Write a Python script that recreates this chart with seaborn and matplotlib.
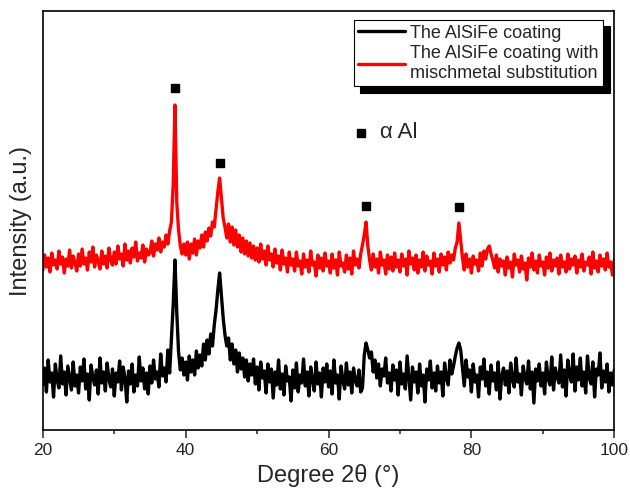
import numpy as np
import matplotlib
matplotlib.use("Agg")
import matplotlib.pyplot as plt
from matplotlib.ticker import MultipleLocator
import seaborn as sns

# 2-theta grid (degrees), 0.25 step
two_theta = np.arange(20, 100.001, 0.25)

# AlSiFe coating (black), intensity in arbitrary units
alsife = [
    45, 62, 38, 70, 48, 57, 33, 66, 50, 42, 74, 46, 58, 35, 64, 52, 40, 68, 44, 55,
    37, 63, 49, 71, 41, 56, 30, 65, 53, 45, 60, 36, 72, 47, 58, 39, 67, 51, 43, 61,
    34, 57, 48, 69, 40, 63, 52, 28, 59, 46, 66, 38, 55, 44, 73, 49, 62, 41, 57, 36,
    64, 47, 70, 51, 58, 43, 76, 54, 62, 48, 80, 57, 92, 125, 170, 118, 78, 60, 72, 55,
    68, 50, 74, 58, 70, 55, 79, 62, 75, 64, 86, 70, 90, 76, 96, 84, 105, 120, 140, 157,
    135, 112, 95, 84, 92, 70, 86, 66, 80, 58, 77, 61, 72, 53, 70, 49, 66, 55, 71, 46,
    63, 40, 68, 52, 59, 37, 66, 48, 61, 32, 58, 45, 70, 41, 56, 35, 64, 49, 53, 29,
    60, 42, 67, 38, 55, 47, 71, 44, 58, 34, 63, 50, 39, 68, 46, 57, 33, 62, 48, 66,
    43, 59, 36, 70, 47, 55, 31, 64, 50, 41, 67, 45, 58, 37, 62, 49, 44, 60, 38, 42,
    75, 87, 80, 72, 78, 58, 70, 52, 66, 44, 61, 54, 72, 47, 57, 39, 65, 50, 60, 35,
    68, 46, 56, 41, 74, 52, 30, 63, 48, 58, 37, 66, 44, 55, 28, 61, 50, 69, 42, 57,
    39, 64, 47, 58, 34, 67, 52, 45, 70, 56, 64, 74, 82, 87, 80, 62, 44, 70, 53, 60,
    38, 66, 48, 55, 33, 63, 51, 71, 44, 58, 36, 65, 49, 57, 40, 68, 31, 54, 62, 45,
    59, 37, 67, 50, 43, 72, 48, 56, 35, 64, 52, 46, 69, 41, 58, 27, 61, 49, 66, 44,
    57, 36, 68, 51, 45, 73, 40, 62, 53, 47, 75, 43, 60, 34, 70, 55, 48, 76, 39, 63,
    50, 72, 44, 58, 37, 74, 52, 46, 68, 33, 61, 55, 77, 42, 59, 48, 66, 38, 57, 45,
    60,
]

# AlSiFe coating with mischmetal substitution (red)
alsife_mm = [
    160, 175, 163, 172, 158, 177, 165, 170, 161, 179, 166, 173, 157, 171, 164, 180, 162, 174, 167, 159,
    176, 164, 181, 166, 172, 160, 178, 168, 183, 163, 175, 169, 161, 179, 166, 174, 162, 182, 170, 165,
    178, 166, 184, 171, 176, 164, 186, 170, 179, 167, 182, 173, 188, 169, 177, 172, 185, 168, 181, 175,
    177, 189, 174, 186, 180, 192, 178, 188, 183, 195, 186, 199, 208, 245, 325, 228, 200, 184, 176, 186,
    175, 188, 171, 186, 177, 191, 175, 189, 182, 195, 183, 198, 189, 202, 194, 208, 203, 220, 238, 252,
    232, 212, 203, 192, 206, 188, 203, 185, 200, 183, 195, 178, 192, 176, 189, 174, 187, 172, 184, 170,
    182, 168, 186, 171, 179, 165, 184, 170, 176, 163, 181, 167, 174, 160, 180, 166, 172, 158, 178, 165,
    171, 159, 178, 164, 169, 156, 176, 163, 170, 158, 179, 165, 168, 154, 175, 162, 172, 159, 177, 164,
    169, 157, 176, 162, 170, 155, 178, 164, 167, 158, 175, 161, 172, 156, 179, 165, 171, 162, 176, 185,
    195, 208, 184, 170, 160, 176, 163, 171, 157, 178, 165, 170, 156, 175, 161, 173, 159, 177, 163, 170,
    158, 176, 164, 171, 155, 179, 166, 172, 160, 175, 157, 170, 163, 178, 159, 174, 165, 169, 156, 177,
    164, 171, 158, 176, 165, 173, 160, 178, 167, 175, 170, 182, 188, 207, 190, 172, 160, 176, 163, 171,
    157, 174, 166, 170, 159, 177, 164, 179, 171, 181, 184, 176, 170, 162, 175, 158, 171, 164, 169, 155,
    173, 162, 168, 153, 176, 165, 170, 158, 174, 161, 167, 150, 172, 163, 177, 160, 169, 157, 175, 164,
    168, 155, 173, 162, 177, 159, 170, 164, 172, 156, 175, 163, 168, 158, 176, 161, 171, 165, 174, 157,
    170, 163, 176, 159, 168, 165, 173, 156, 178, 162, 169, 158, 175, 164, 171, 160, 177, 163, 168, 155,
    170,
]

# alpha-Al peak markers
peak_pos = [38.5, 44.8, 65.3, 78.3]
peak_mark = [342, 267, 224, 223]

sns.set_style("white")
plt.rcParams["font.family"] = ["Liberation Sans", "DejaVu Sans"]

fig = plt.figure(figsize=(6.3, 4.94), dpi=100)
ax = fig.add_axes([0.068, 0.1296, 0.907, 0.848])

sns.lineplot(x=two_theta, y=alsife, color="black", lw=2.4, ax=ax,
             label="The AlSiFe coating")
sns.lineplot(x=two_theta, y=alsife_mm, color="red", lw=2.4, ax=ax,
             label="The AlSiFe coating with\nmischmetal substitution")
ax.scatter(peak_pos, peak_mark, marker="s", s=32, color="black", zorder=5)

# phase key
ax.plot([0.557], [0.709], marker="s", ms=5.5, color="black", transform=ax.transAxes)
ax.text(0.59, 0.709, "\u03b1 Al", transform=ax.transAxes, fontsize=16,
        va="center", ha="left")

ax.set_xlim(20, 100)
ax.set_ylim(0, 419)
ax.set_yticks([])
ax.xaxis.set_major_locator(MultipleLocator(20))
ax.xaxis.set_minor_locator(MultipleLocator(10))
ax.tick_params(axis="x", which="major", direction="out", length=6, width=1.1,
               labelsize=12.5, bottom=True, top=False)
ax.tick_params(axis="x", which="minor", direction="out", length=3, width=1.1,
               bottom=True, top=False)
for s in ax.spines.values():
    s.set_linewidth(1.2)
    s.set_color("black")

ax.set_xlabel("Degree 2\u03b8 (\u00b0)", fontsize=17, labelpad=4)
ax.set_ylabel("Intensity (a.u.)", fontsize=17, labelpad=8)

leg = ax.legend(loc="upper right", bbox_to_anchor=(0.981, 0.9785), borderaxespad=0,
                fontsize=13, frameon=True, fancybox=False, edgecolor="black",
                handlelength=2.6, handletextpad=0.3, labelspacing=0.2,
                borderpad=0.25,
                shadow={"ox": 4.5, "oy": -4.5, "facecolor": "black",
                        "edgecolor": "black", "alpha": 1})
leg.get_frame().set_linewidth(0.8)
for line in leg.get_lines():
    line.set_linewidth(2.4)

fig.savefig("out.png", dpi=100)
